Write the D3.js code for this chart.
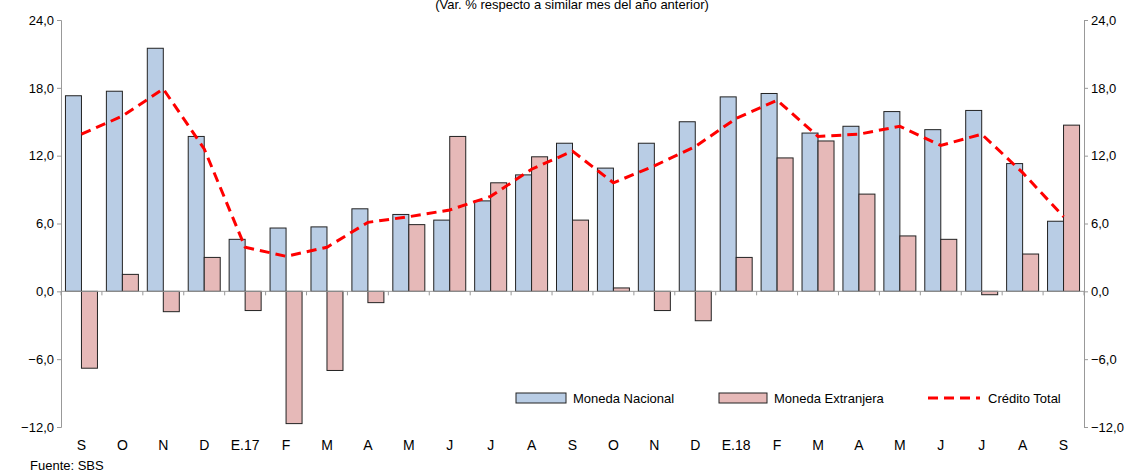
<!DOCTYPE html>
<html><head><meta charset="utf-8">
<script src="https://cdn.jsdelivr.net/npm/d3@7"></script>
<style>body{margin:0;background:#fff}text{font-family:"Liberation Sans",Arial,sans-serif}</style>
</head><body><svg id="c" width="1139" height="473"></svg>
<script>
var months = ["S","O","N","D","E.17","F","M","A","M","J","J","A","S","O","N","D","E.18","F","M","A","M","J","J","A","S"];
var nacional = [17.3,17.7,21.5,13.7,4.6,5.6,5.7,7.3,6.8,6.3,8.0,10.3,13.1,10.9,13.1,15.0,17.2,17.5,14.0,14.6,15.9,14.3,16.0,11.3,6.2];
var extranjera = [-6.8,1.5,-1.8,3.0,-1.7,-11.7,-7.0,-1.0,5.9,13.7,9.6,11.9,6.3,0.3,-1.7,-2.6,3.0,11.8,13.3,8.6,4.9,4.6,-0.3,3.3,14.7];
var total = [13.9,15.5,17.9,12.6,3.9,3.1,3.9,6.1,6.6,7.2,8.4,10.8,12.4,9.6,11.1,12.8,15.3,16.9,13.7,13.9,14.6,12.9,13.9,10.5,6.6];
var ticks = [-12,-6,0,6,12,18,24];

var svg = d3.select("#c");
var mLeft = 61, mRight = 1084, mTop = 20, mBottom = 427;
var idx = months.map((d,i) => i);
var x = d3.scaleBand().domain(idx).range([mLeft, mRight]);
var y = d3.scaleLinear().domain([-12,24]).range([mBottom, mTop]);
var bw = 16;
var fmt = d => d3.format(".1f")(d).replace(".", ",");

svg.append("text").attr("x",572).attr("y",9).attr("text-anchor","middle").attr("font-size",13)
  .text("(Var. % respecto a similar mes del año anterior)");

// axes
var yl = d3.axisLeft(y).tickValues(ticks).tickSize(4).tickFormat(fmt);
var yr = d3.axisRight(y).tickValues(ticks).tickSize(4).tickFormat(fmt);
[svg.append("g").attr("transform","translate("+mLeft+",0)").call(yl),
 svg.append("g").attr("transform","translate("+mRight+",0)").call(yr)].forEach(g => {
  g.select(".domain").attr("stroke","#999");
  g.selectAll(".tick line").attr("stroke","#999");
  g.selectAll(".tick text").attr("font-size",13).attr("fill","#000");
});

// bars
svg.selectAll(".mn").data(nacional).join("rect")
  .attr("x",(d,i) => x(i) + x.bandwidth()/2 - bw).attr("width",bw)
  .attr("y",d => y(Math.max(0,d))).attr("height",d => Math.abs(y(d)-y(0)))
  .attr("fill","#b9cde5").attr("stroke","#222").attr("stroke-width",1);
svg.selectAll(".me").data(extranjera).join("rect")
  .attr("x",(d,i) => x(i) + x.bandwidth()/2).attr("width",bw)
  .attr("y",d => y(Math.max(0,d))).attr("height",d => Math.abs(y(d)-y(0)))
  .attr("fill","#e6b9b8").attr("stroke","#222").attr("stroke-width",1);

// zero line with category ticks
svg.append("line").attr("x1",mLeft).attr("x2",mRight).attr("y1",y(0)).attr("y2",y(0)).attr("stroke","#999");
svg.selectAll(".ct").data(idx.concat([months.length])).join("line")
  .attr("x1",d => mLeft + d*x.bandwidth()).attr("x2",d => mLeft + d*x.bandwidth())
  .attr("y1",y(0)).attr("y2",y(0)+4).attr("stroke","#999");

// line
var line = d3.line().x((d,i) => x(i)+x.bandwidth()/2).y(d => y(d));
svg.append("path").datum(total).attr("d",line).attr("fill","none")
  .attr("stroke","#ff0000").attr("stroke-width",3).attr("stroke-dasharray","10,6");

// month labels
svg.selectAll(".ml").data(months).join("text")
  .attr("x",(d,i) => x(i)+x.bandwidth()/2).attr("y",450).attr("text-anchor","middle")
  .attr("font-size",14).text(d => d);

svg.append("text").attr("x",30).attr("y",470).attr("font-size",13).text("Fuente: SBS");

// legend
var lg = svg.append("g");
lg.append("rect").attr("x",516).attr("y",393).attr("width",50).attr("height",10).attr("fill","#b9cde5").attr("stroke","#222");
lg.append("text").attr("x",573).attr("y",403).attr("font-size",13).text("Moneda Nacional");
lg.append("rect").attr("x",719).attr("y",393).attr("width",48).attr("height",10).attr("fill","#e6b9b8").attr("stroke","#222");
lg.append("text").attr("x",774).attr("y",403).attr("font-size",13).text("Moneda Extranjera");
lg.append("line").attr("x1",928).attr("x2",980).attr("y1",398).attr("y2",398).attr("stroke","#ff0000").attr("stroke-width",3).attr("stroke-dasharray","10,6");
lg.append("text").attr("x",988).attr("y",403).attr("font-size",13).text("Crédito Total");
</script></body></html>
